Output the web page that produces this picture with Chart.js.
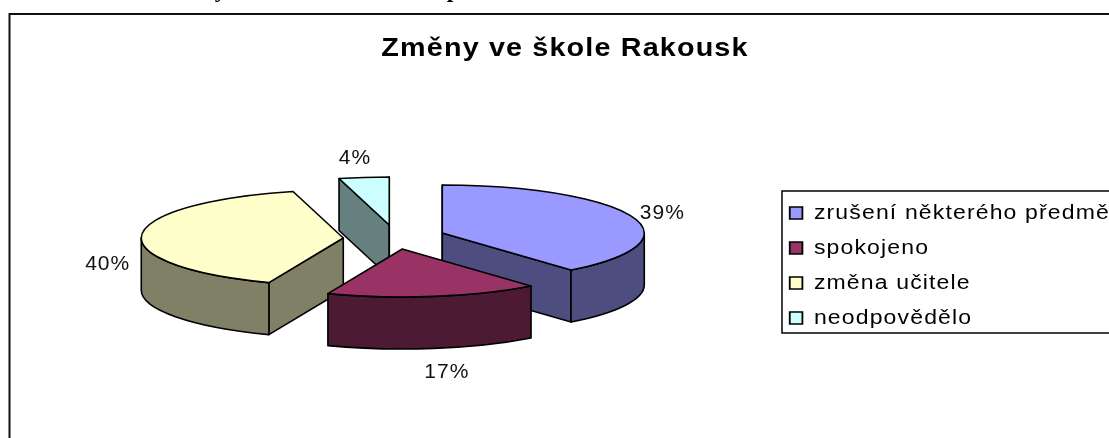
<!DOCTYPE html>
<html lang="cs"><head><meta charset="utf-8">
<style>html,body{margin:0;padding:0;background:#fff;overflow:hidden}canvas{display:block}</style>
<script src="https://cdn.jsdelivr.net/npm/chart.js@4"></script>
</head><body>
<canvas id="c" width="1109" height="438"></canvas>
<script>
const categories = ['zrušení některého předmě', 'spokojeno', 'změna učitele', 'neodpovědělo'];
const percents = [39, 17, 40, 4];
const topColors = ['#9999FF', '#993366', '#FFFFCC', '#CCFFFF'];
const sideColors = ['#4D4D80', '#4D1A33', '#808066', '#668080'];
const chartTitle = 'Změny ve škole Rakousk';
const captionText = 'Graf č. 11: Změny ve škole Česká republika';

// 3D look
const RX = 202, RY = 48, DEPTH = 52;
const explodeX = [29, -11, -70, -24];
const explodeY = [-25, -9, -20, -33];
const labelDX = [30, 13, -34, -9];
const labelDY = [-4, 76, 29, -19];
const drawOrder = [3, 2, 0, 1];
const TEXT_SPACING = '1px';
const STRETCH = 1.15;

// the reference's text is wider than tall: draw the library's boxes stretched
function stretchBox(chart, box, originOf, dy){
  if (box._stretched) return;
  box._stretched = true;
  const orig = box.draw.bind(box);
  box.draw = function(){
    const c = chart.ctx, o = originOf(box);
    c.save();
    c.translate(o.to, dy);
    c.scale(STRETCH, 1);
    c.translate(-o.from, 0);
    orig();
    c.restore();
  };
}

const pie3d = {
  id: 'pie3d',
  beforeLayout(chart){ chart.ctx.letterSpacing = TEXT_SPACING; },
  afterLayout(chart){
    stretchBox(chart, chart.titleBlock, b => ({ from: (b.left + b.right) / 2, to: 565 }), 6);
    stretchBox(chart, chart.legend, b => ({ from: b.left, to: 772.5 }), 32.5);
  },
  beforeDraw(chart){
    const c = chart.ctx;
    c.save();
    c.letterSpacing = '2px';
    c.font = 'bold 24px "Liberation Serif"';
    c.fillStyle = '#000';
    c.textBaseline = 'alphabetic';
    c.fillText(captionText, 8, -3);
    c.strokeStyle = '#111';
    c.lineWidth = 2;
    c.strokeRect(9.5, 14, 2000, 1000);
    c.restore();
  },
  beforeDatasetDraw(chart, args){
    const c = chart.ctx;
    const arcs = args.meta.data;
    c.save();
    c.lineJoin = 'round';
    c.lineWidth = 1.6;
    c.strokeStyle = '#000';
    for (const i of drawOrder){
      const a = arcs[i];
      const x = a.x + explodeX[i], y = a.y + explodeY[i];
      const s = a.startAngle, e = a.endAngle;
      const px = t => x + RX * Math.cos(t), py = t => y + RY * Math.sin(t);
      const wall = t => {
        c.beginPath();
        c.moveTo(x, y); c.lineTo(px(t), py(t));
        c.lineTo(px(t), py(t) + DEPTH); c.lineTo(x, y + DEPTH);
        c.closePath();
        c.fillStyle = sideColors[i]; c.fill(); c.stroke();
      };
      if (Math.cos(s) < 0.001) wall(s);
      if (Math.cos(e) > -0.001) wall(e);
      // outer rim: only the part facing the viewer
      const from = Math.max(s, 0), to = Math.min(e, Math.PI);
      if (to > from){
        c.beginPath();
        c.ellipse(x, y, RX, RY, 0, from, to);
        c.lineTo(px(to), py(to) + DEPTH);
        c.ellipse(x, y + DEPTH, RX, RY, 0, to, from, true);
        c.closePath();
        c.fillStyle = sideColors[i]; c.fill(); c.stroke();
      }
      // top face: the library's own arc, squashed
      const r = a.outerRadius;
      c.save();
      c.translate(x, y); c.scale(RX / r, RY / r); c.translate(-a.x, -a.y);
      a.draw(c);
      c.restore();
      c.beginPath();
      c.moveTo(x, y);
      c.ellipse(x, y, RX, RY, 0, s, e);
      c.closePath();
      c.stroke();
    }
    // percentage labels
    c.fillStyle = '#111';
    c.font = '21px "Liberation Sans"';
    c.textAlign = 'center';
    c.textBaseline = 'middle';
    arcs.forEach((a, i) => {
      const m = (a.startAngle + a.endAngle) / 2;
      c.fillText(percents[i] + '%',
        a.x + explodeX[i] + RX * Math.cos(m) + labelDX[i],
        a.y + explodeY[i] + RY * Math.sin(m) + labelDY[i]);
    });
    c.restore();
    return false;
  },
  afterDraw(chart){
    const c = chart.ctx;
    c.save();
    c.strokeStyle = '#111';
    c.lineWidth = 1.6;
    c.strokeRect(782, 191, 1000, 142);
    c.restore();
  }
};

new Chart(document.getElementById('c'), {
  type: 'pie',
  data: { labels: categories, datasets: [{ data: percents, backgroundColor: topColors, borderWidth: 0 }] },
  options: {
    responsive: false,
    animation: false,
    layout: { padding: { left: 21, top: 28, right: 0, bottom: 0 } },
    plugins: {
      tooltip: { enabled: false },
      title: { display: true, text: chartTitle, color: '#000',
        font: { family: '"Liberation Sans"', size: 25, weight: 'bold' }, padding: { top: 0, bottom: 20 } },
      legend: { position: 'right', align: 'center',
        labels: { boxWidth: 11, boxHeight: 12, padding: 15, color: '#111',
          font: { family: '"Liberation Sans"', size: 20 },
          generateLabels(chart){
            return categories.map((t, i) => ({ text: t, fillStyle: topColors[i], strokeStyle: '#000', lineWidth: 1.6, index: i, hidden: false }));
          } } }
    }
  },
  plugins: [pie3d]
});
</script>
</body></html>
